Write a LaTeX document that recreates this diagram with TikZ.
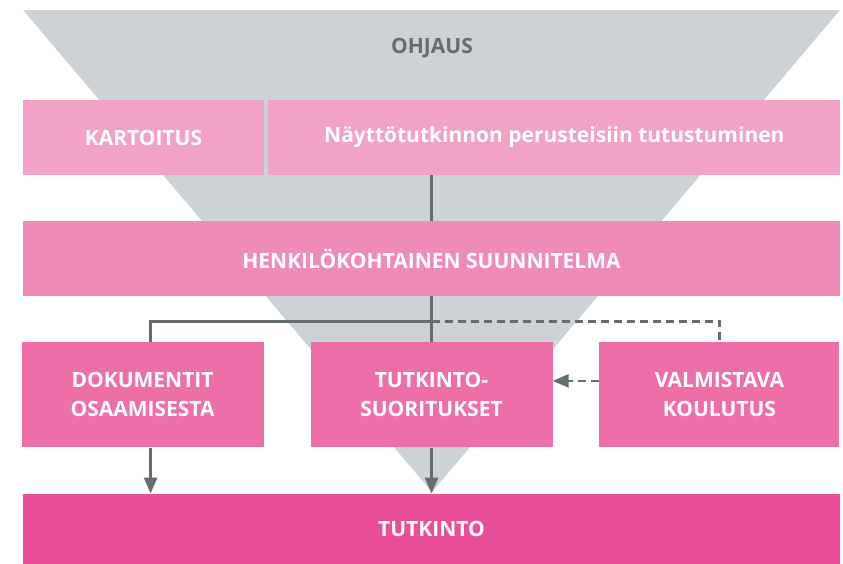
\documentclass[tikz,border=0pt]{standalone}
\usepackage{fontspec}
\setmainfont{Open Sans}
\usetikzlibrary{arrows.meta, positioning}
\definecolor{funnelgray}{HTML}{CCD2D6}
\definecolor{linegray}{HTML}{646D72}
\definecolor{pinkA}{HTML}{F1A2C6}
\definecolor{pinkB}{HTML}{EF8BB9}
\definecolor{pinkC}{HTML}{EE6EA8}
\definecolor{pinkD}{HTML}{E94F98}
\tikzstyle{box} = [rectangle, inner sep=0pt, align=center, text=white, font=\bfseries\fontsize{21}{29}\selectfont]
\tikzstyle{line} = [line width=2.6pt, draw=linegray]
\tikzstyle{arrow} = [line, -{Triangle[length=16pt,width=13pt]}]
\tikzstyle{dashline} = [line, dash pattern=on 8pt off 5pt]

\begin{document}
\begin{tikzpicture}[x=1pt, y=1pt]
        \useasboundingbox (0,0) rectangle (843,-563);
        % funnel
        \fill [funnelgray] (23,-10) -- (840,-10) -- (432,-492) -- cycle;
        \node (ohjaus) [box, text=linegray] at (432,-48) {OHJAUS};

        \node (kartoitus) [box, fill=pinkA, minimum width=241pt, minimum height=75pt] at (143.5,-137.5) {KARTOITUS};
        \node (perusteet) [box, fill=pinkA, minimum width=572pt, minimum height=75pt, right=4pt of kartoitus] {Näyttötutkinnon perusteisiin tutustuminen};
        \node (henk) [box, fill=pinkB, minimum width=817pt, minimum height=75pt] at (431.5,-258.5) {HENKILÖKOHTAINEN SUUNNITELMA};
        \node (suor) [box, fill=pinkC, minimum width=242pt, minimum height=105pt, below=46pt of henk] {TUTKINTO-\\SUORITUKSET};
        \node (dok) [box, fill=pinkC, minimum width=242pt, minimum height=105pt, left=46.5pt of suor] {DOKUMENTIT\\OSAAMISESTA};
        \node (valm) [box, fill=pinkC, minimum width=240pt, minimum height=105pt, right=46.5pt of suor] {VALMISTAVA\\KOULUTUS};
        \node (tutk) [box, fill=pinkD, minimum width=817pt, minimum height=70pt, below=46pt of suor] {TUTKINTO};

        \coordinate (split) at ([yshift=-25pt]henk.south);

        \draw [line] (perusteet.south -| henk.north) -- (henk.north);
        \draw [line] (henk.south) -- (henk.south |- suor.north);
        \draw [line] (split) -| ([xshift=8pt]dok.north);
        \draw [dashline] (split) -| (valm.north);
        \draw [arrow, dash pattern=on 8pt off 5pt] ([yshift=14pt]valm.west) -- ([yshift=14pt]suor.east);
        \draw [arrow] ([xshift=8pt]dok.south) -- ([xshift=8pt]dok.south |- tutk.north);
        \draw [arrow] (suor.south) -- (suor.south |- tutk.north);
    \end{tikzpicture}
\end{document}
